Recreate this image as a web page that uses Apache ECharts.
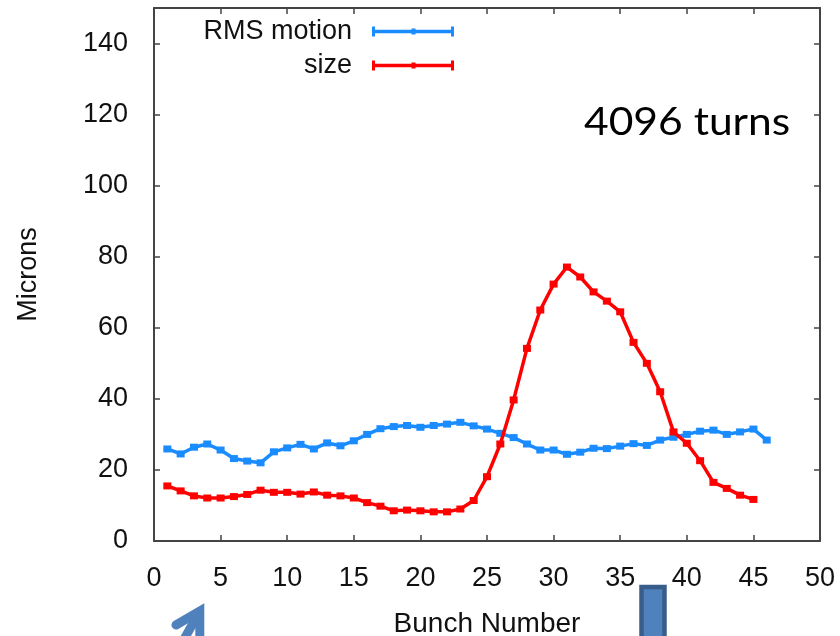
<!DOCTYPE html>
<html>
<head>
<meta charset="utf-8">
<script src="https://cdn.jsdelivr.net/npm/echarts@6/dist/echarts.min.js"></script>
<style>
  html, body { margin: 0; padding: 0; background: #ffffff; }
  #chart { width: 840px; height: 636px; }
</style>
</head>
<body>
<div id="chart"></div>
<script>
// Bunch numbers along the train
const bunchRms = [1,2,3,4,5,6,7,8,9,10,11,12,13,14,15,16,17,18,19,20,21,22,23,24,25,26,27,28,29,30,31,32,33,34,35,36,37,38,39,40,41,42,43,44,45,46];
const bunchSize = [1,2,3,4,5,6,7,8,9,10,11,12,13,14,15,16,17,18,19,20,21,22,23,24,25,26,27,28,29,30,31,32,33,34,35,36,37,38,39,40,41,42,43,44,45];

// RMS centroid motion per bunch (microns)
const rmsMotion = [25.9,24.5,26.4,27.3,25.6,23.2,22.5,22.0,25.1,26.2,
                   27.2,25.9,27.6,26.8,28.2,30.0,31.6,32.2,32.5,32.0,
                   32.5,32.9,33.4,32.4,31.5,30.3,29.1,27.3,25.6,25.6,
                   24.4,25.0,26.1,26.0,26.7,27.4,26.9,28.4,29.2,30.0,
                   30.9,31.2,30.0,30.7,31.5,28.4];

// Beam size per bunch (microns)
const beamSize = [15.5,14.1,12.7,12.1,12.1,12.5,13.1,14.3,13.7,13.7,
                  13.2,13.8,12.9,12.7,12.1,10.8,9.8,8.5,8.7,8.5,
                  8.2,8.2,9.0,11.4,18.1,27.3,39.7,54.2,65.0,72.3,
                  77.1,74.3,70.1,67.5,64.5,55.9,50.0,42.0,30.7,27.5,
                  22.6,16.5,14.8,12.9,11.7];

const seriesNames = ['RMS motion', 'size'];
const xTicks = { min: 0, max: 50, interval: 5 };
const yTicks = { min: 0, max: 150, interval: 20 };

// line sample with error-bar caps, used as the legend key
const keyIcon = 'path://M0,0 L3,0 L3,3.2 L39.5,3.2 L39.5,2 L43.5,2 L43.5,3.2 L79,3.2 L79,0 L82,0 L82,10 L79,10 L79,6.8 L43.5,6.8 L43.5,8 L39.5,8 L39.5,6.8 L3,6.8 L3,10 L0,10 Z';

const frameColor = '#444';
const labelFont = 'Liberation Sans, Arial, sans-serif';

function pairs(xs, ys) { return xs.map((x, i) => [x, ys[i]]); }

function frameAxis(extra) {
  return Object.assign({
    type: 'value',
    axisLine: { show: true, onZero: false, lineStyle: { color: frameColor, width: 2 } },
    axisTick: { show: true, inside: true, length: 6, lineStyle: { color: frameColor, width: 1.5 } },
    splitLine: { show: false },
    axisLabel: { show: false }
  }, extra);
}

const chart = echarts.init(document.getElementById('chart'), null, { renderer: 'canvas' });

chart.setOption({
  backgroundColor: '#ffffff',
  animation: false,
  grid: { left: 154, right: 20, top: 8, bottom: 95, containLabel: false, outerBoundsMode: 'none' },
  xAxis: [
    frameAxis({
      position: 'bottom', min: xTicks.min, max: xTicks.max, interval: xTicks.interval,
      axisLabel: { show: true, margin: 24, fontFamily: labelFont, fontSize: 27, color: '#111' },
      name: 'Bunch Number', nameLocation: 'middle', nameGap: 69,
      nameTextStyle: { fontFamily: labelFont, fontSize: 28, color: '#111' }
    }),
    frameAxis({ position: 'top', min: xTicks.min, max: xTicks.max, interval: xTicks.interval })
  ],
  yAxis: [
    frameAxis({
      position: 'left', min: yTicks.min, max: yTicks.max, interval: yTicks.interval,
      axisLabel: { show: true, margin: 26, fontFamily: labelFont, fontSize: 27, color: '#111',
        formatter: v => (v > 140 ? '' : String(v)) },
      name: 'Microns', nameLocation: 'middle', nameGap: 112,
      nameTextStyle: { fontFamily: labelFont, fontSize: 27, color: '#111' }
    }),
    frameAxis({ position: 'right', min: yTicks.min, max: yTicks.max, interval: yTicks.interval })
  ],
  legend: {
    orient: 'vertical', align: 'right', right: 386, top: 18, padding: 0,
    itemWidth: 82, itemHeight: 10, itemGap: 7,
    textStyle: { fontFamily: labelFont, fontSize: 27, color: '#111', lineHeight: 26, padding: [0, 15, 0, 0] },
    data: seriesNames.map(n => ({ name: n, icon: keyIcon }))
  },
  series: [
    {
      name: seriesNames[0], type: 'line', data: pairs(bunchRms, rmsMotion),
      symbol: 'rect', symbolSize: [8, 7], showAllSymbol: true,
      itemStyle: { color: '#1a8cff' }, lineStyle: { color: '#1a8cff', width: 3.5 }, z: 2
    },
    {
      name: seriesNames[1], type: 'line', data: pairs(bunchSize, beamSize),
      symbol: 'rect', symbolSize: [8, 7], showAllSymbol: true,
      itemStyle: { color: '#ff0000' }, lineStyle: { color: '#ff0000', width: 3.5 }, z: 3
    }
  ],
  graphic: [
    {
      type: 'text', left: 584, top: 104, scaleX: 1.12,
      style: { text: '4096 turns', font: '38px Lato', fill: '#000' }
    },
    // open arrowhead with shaft
    {
      type: 'polyline', silent: true,
      shape: { points: [[176, 625], [199.8, 611.1], [199.8, 645]] },
      style: { stroke: '#4f81bd', lineWidth: 9, lineCap: 'round', lineJoin: 'miter', fill: null }
    },
    {
      type: 'line', silent: true,
      shape: { x1: 199.8, y1: 611.1, x2: 178, y2: 650 },
      style: { stroke: '#4f81bd', lineWidth: 9 }
    },
    // marker bar below the axis
    {
      type: 'rect', silent: true,
      shape: { x: 641.5, y: 587, width: 23, height: 60 },
      style: { fill: '#4f81bd', stroke: '#385d8a', lineWidth: 4.5 }
    }
  ]
});
</script>
</body>
</html>
